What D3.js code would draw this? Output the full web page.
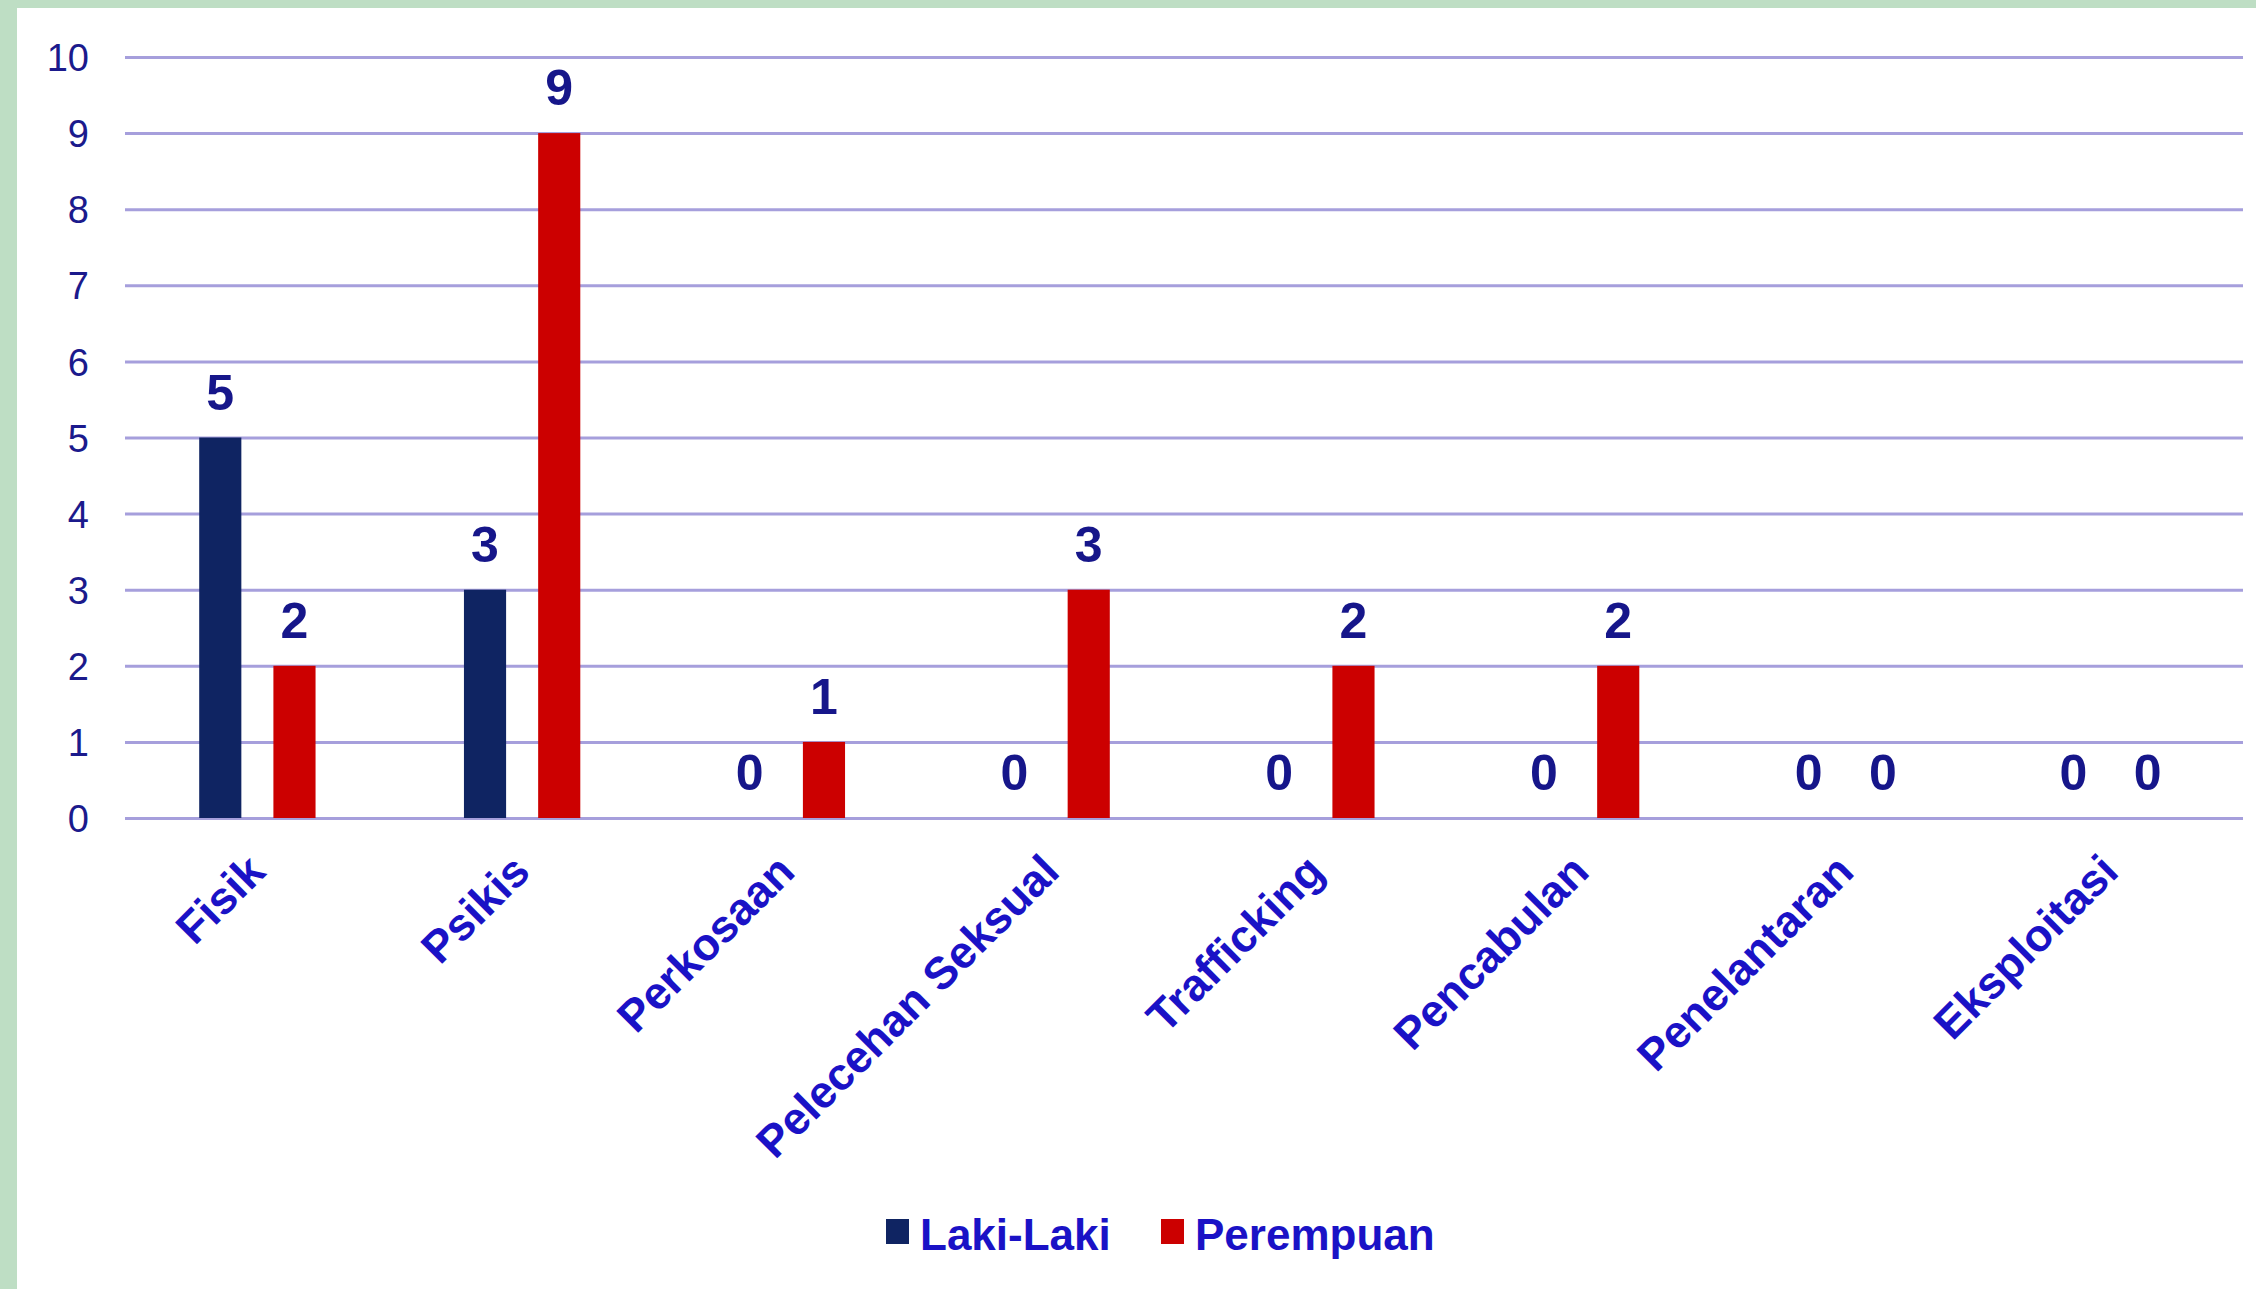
<!DOCTYPE html>
<html>
<head>
<meta charset="utf-8">
<script src="https://cdn.jsdelivr.net/npm/d3@7"></script>
<style>
  body { margin: 0; background: #ffffff; }
  text { font-family: "Liberation Sans", Arial, sans-serif; }
</style>
</head>
<body>
<div id="chart"></div>
<script>
// Data
var categories = ["Fisik", "Psikis", "Perkosaan", "Pelecehan Seksual", "Trafficking", "Pencabulan", "Penelantaran", "Eksploitasi"];
var seriesNames = ["Laki-Laki", "Perempuan"];
var lakiLaki = [5, 3, 0, 0, 0, 0, 0, 0];
var perempuan = [2, 9, 1, 3, 2, 2, 0, 0];
var yTicks = [0, 1, 2, 3, 4, 5, 6, 7, 8, 9, 10];

var width = 2256;
var height = 1289;
var colors = { "Laki-Laki": "#0f2462", "Perempuan": "#cc0000" };

var svg = d3.select("#chart")
  .append("svg")
  .attr("width", width)
  .attr("height", height);

// marco verde
svg.append("rect").attr("width", width).attr("height", height).attr("fill", "#bedec4");
svg.append("rect").attr("x", 17).attr("y", 8).attr("width", width - 17).attr("height", height - 8).attr("fill", "#ffffff");

// escalas
var left = 125, right = 2243;
var x0 = d3.scaleBand().domain(categories).range([left, right]).padding(0);
var x1 = d3.scaleBand().domain(seriesNames).range([0, x0.bandwidth()])
  .paddingInner(0.432).paddingOuter(1.0);
var y = d3.scaleLinear().domain([0, 10]).range([818, 57]);

// eje y con lineas
var yAxis = d3.axisLeft(y)
  .tickValues(yTicks)
  .tickSize(-(right - left))
  .tickPadding(36);

var gy = svg.append("g")
  .attr("transform", "translate(" + left + ",0)")
  .call(yAxis);
gy.select(".domain").remove();
gy.selectAll(".tick line")
  .attr("stroke", "#a69fdc")
  .attr("stroke-width", 3);
gy.selectAll(".tick text")
  .attr("fill", "#1b1a8c")
  .attr("font-size", 38)
  .attr("dy", "0.36em");

// datos por grupo
var rows = categories.map(function(c, i) {
  return { cat: c, values: [
    { name: "Laki-Laki", value: lakiLaki[i] },
    { name: "Perempuan", value: perempuan[i] }
  ] };
});

var groups = svg.selectAll("g.group")
  .data(rows)
  .enter()
  .append("g")
  .attr("class", "group")
  .attr("transform", function(d) { return "translate(" + x0(d.cat) + ",0)"; });

groups.selectAll("rect")
  .data(function(d) { return d.values; })
  .enter()
  .append("rect")
  .attr("x", function(d) { return x1(d.name); })
  .attr("width", x1.bandwidth())
  .attr("y", function(d) { return y(d.value); })
  .attr("height", function(d) { return y(0) - y(d.value); })
  .attr("fill", function(d) { return colors[d.name]; });

// etiquetas de valores
groups.selectAll("text.val")
  .data(function(d) { return d.values; })
  .enter()
  .append("text")
  .attr("class", "val")
  .attr("x", function(d) { return x1(d.name) + x1.bandwidth() / 2; })
  .attr("y", function(d) { return y(d.value) - 28; })
  .attr("text-anchor", "middle")
  .attr("font-size", 50)
  .attr("font-weight", "bold")
  .attr("fill", "#16168a")
  .text(function(d) { return d.value; });

// etiquetas de categorias
svg.selectAll("text.cat")
  .data(categories)
  .enter()
  .append("text")
  .attr("class", "cat")
  .attr("text-anchor", "end")
  .attr("font-size", 45)
  .attr("font-weight", "bold")
  .attr("fill", "#1a12c6")
  .attr("transform", function(d) {
    return "translate(" + (x0(d) + x0.bandwidth() / 2 + 10) + ",874)rotate(-45)";
  })
  .text(function(d) { return d; });

// leyenda
var legendX = [886, 1161];
var legend = svg.selectAll("g.legend")
  .data(seriesNames)
  .enter()
  .append("g")
  .attr("class", "legend")
  .attr("transform", function(d, i) { return "translate(" + legendX[i] + ",1219)"; });

legend.append("rect")
  .attr("width", 23)
  .attr("height", 25)
  .attr("fill", function(d) { return colors[d]; });

legend.append("text")
  .attr("x", 34)
  .attr("y", 31)
  .attr("font-size", 44)
  .attr("font-weight", "bold")
  .attr("fill", "#1a12c6")
  .text(function(d) { return d; });
</script>
</body>
</html>
